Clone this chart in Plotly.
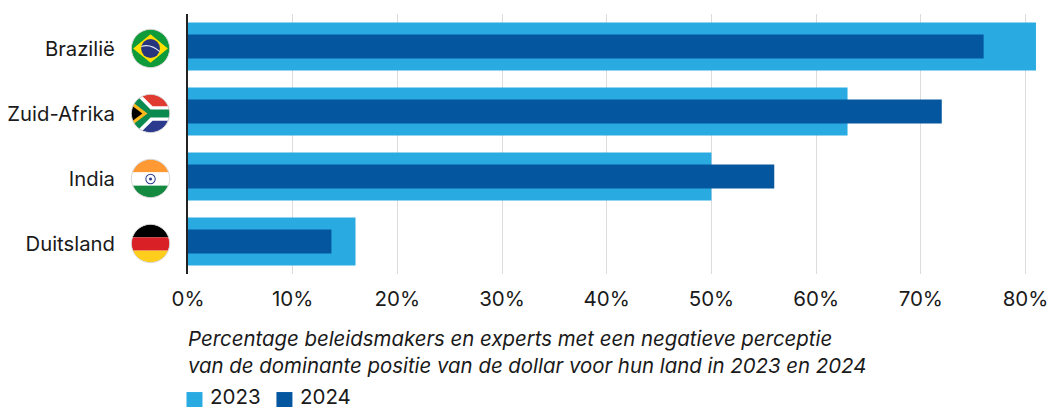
import base64
import plotly.graph_objects as go

categories = ["Brazilië", "Zuid-Afrika", "India", "Duitsland"]
series_names = ["2023", "2024"]
values_2023 = [81, 63, 50, 16]
values_2024 = [76, 72, 56, 13.7]
x_ticks = [0, 10, 20, 30, 40, 50, 60, 70, 80]
x_labels = ["0%", "10%", "20%", "30%", "40%", "50%", "60%", "70%", "80%"]
caption = ("Percentage beleidsmakers en experts met een negatieve perceptie<br>"
           "van de dominante positie van de dollar voor hun land in 2023 en 2024")

FONT = "Inter, sans-serif"
C23, C24, INK = "#29abe2", "#04569f", "#1a1a1a"
W, H = 1049, 409
L, R, T, B = 187.5, 1040, 13.5, 274.5


def px(x):
    return (x - L) / (R - L)


def py(y):
    return (B - y) / (B - T)


def flag(body):
    svg = ('<svg xmlns="http://www.w3.org/2000/svg" width="120" height="120" viewBox="0 0 40 40">'
           '<defs><clipPath id="c"><circle cx="20" cy="20" r="18.6"/></clipPath></defs>'
           f'<g clip-path="url(#c)">{body}</g>'
           '<circle cx="20" cy="20" r="18.8" fill="none" stroke="#d4d4d4" stroke-width="0.9"/></svg>')
    return "data:image/svg+xml;base64," + base64.b64encode(svg.encode()).decode()


flags = [
    flag('<rect width="40" height="40" fill="#0f9b3a"/>'
         '<polygon points="20,6 37,20 20,34 3,20" fill="#fedf00"/>'
         '<circle cx="20" cy="20" r="9.2" fill="#27357f"/>'
         '<path d="M11 18 Q20 15 29 23" stroke="#dfe8f0" stroke-width="1" fill="none"/>'),
    flag('<rect width="40" height="20" fill="#e03c31"/>'
         '<rect y="20" width="40" height="20" fill="#2b3a8c"/>'
         '<polygon points="0,0 9,0 22,13 40,13 40,27 22,27 9,40 0,40" fill="#fff"/>'
         '<polygon points="0,2 6,2 20,16 40,16 40,24 20,24 6,38 0,38" fill="#0b8a4f"/>'
         '<polygon points="0,7 17,20 0,33" fill="#ffb81c"/>'
         '<polygon points="0,11 12,20 0,29" fill="#000"/>'),
    flag('<rect width="40" height="14" fill="#ff9933"/>'
         '<rect y="14" width="40" height="13" fill="#fff"/>'
         '<rect y="27" width="40" height="13" fill="#138a3f"/>'
         '<circle cx="20" cy="20.5" r="4.6" fill="none" stroke="#2b3a8c" stroke-width="1"/>'
         '<circle cx="20" cy="20.5" r="1.5" fill="#2b3a8c"/>'),
    flag('<rect width="40" height="14" fill="#000"/>'
         '<rect y="14" width="40" height="13" fill="#da2027"/>'
         '<rect y="27" width="40" height="13" fill="#ffce1c"/>'),
]

fig = go.Figure()
fig.add_bar(y=categories, x=values_2023, orientation="h", width=0.735, marker_color=C23,
            marker_line_width=0, showlegend=False, name=series_names[0])
fig.add_bar(y=categories, x=values_2024, orientation="h", width=0.367, marker_color=C24,
            marker_line_width=0, showlegend=False, name=series_names[1])

images = []
for i, src in enumerate(flags):
    images.append(dict(source=src, xref="paper", yref="paper",
                       x=px(150), y=1 - (i + 0.5) / 4 - 2 / (B - T),
                       sizex=41 / (R - L), sizey=41 / (B - T),
                       xanchor="center", yanchor="middle", layer="above"))

annotations = [dict(text=caption, xref="paper", yref="paper", x=px(185), y=py(325),
                    xanchor="left", yanchor="top", align="left", showarrow=False,
                    font=dict(size=20.4, style="italic", color=INK))]
shapes = []
for name, colour, sq, tx in zip(series_names, (C23, C24), (186, 276), (208, 298)):
    shapes.append(dict(type="rect", xref="paper", yref="paper", x0=px(sq), x1=px(sq + 16),
                       y0=py(393), y1=py(408), fillcolor=colour, line_width=0))
    annotations.append(dict(text=name, xref="paper", yref="paper", x=px(tx), y=py(397),
                            xanchor="left", yanchor="middle", showarrow=False,
                            font=dict(size=20.5, color=INK)))

fig.update_layout(
    width=W, height=H, autosize=False, barmode="overlay", showlegend=False,
    margin=dict(l=L, r=W - R, t=T, b=H - B, autoexpand=False),
    paper_bgcolor="white", plot_bgcolor="white",
    font=dict(family=FONT, size=20.5, color=INK),
    images=images, shapes=shapes, annotations=annotations,
    xaxis=dict(range=[0, (R - L) / 10.475], tickvals=x_ticks, ticktext=x_labels,
               showgrid=True, gridcolor="#dcdcdc", gridwidth=1, zeroline=False,
               showline=False, ticks="", tickfont=dict(size=20.5), ticklabelstandoff=10,
               automargin=False),
    yaxis=dict(categoryorder="array", categoryarray=categories[::-1], showgrid=False,
               zeroline=False, showline=True, linecolor="#222222", linewidth=2,
               ticks="", ticklabelstandoff=67, ticklabelshift=2,
               tickfont=dict(size=20.3), automargin=False),
)
fig.write_html("out.html", config={"displayModeBar": False},
               post_script="document.body.style.margin='0';")
